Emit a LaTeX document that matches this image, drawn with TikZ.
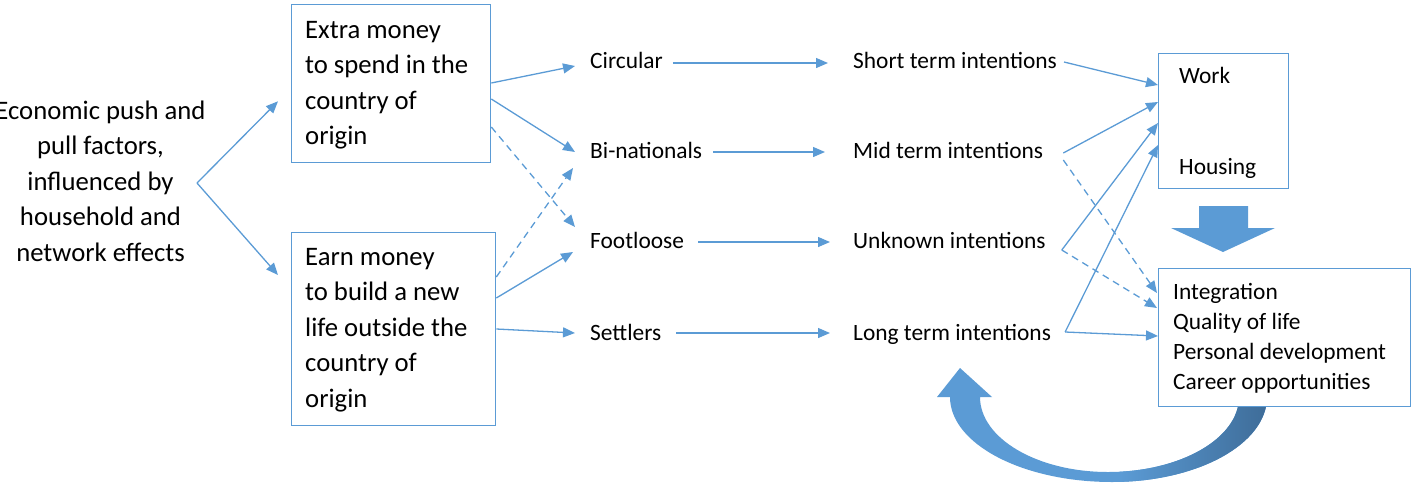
\documentclass[tikz,border=0pt]{standalone}
\usepackage{fontspec}
\setmainfont{Carlito}
\usetikzlibrary{arrows.meta,calc}
\definecolor{lblue}{RGB}{91,155,213}
\definecolor{dblue}{RGB}{62,108,152}
\tikzset{
 conn/.style={draw=lblue, line width=1.3pt, -{Triangle[length=12pt,width=10pt]}},
 dconn/.style={conn, dash pattern=on 7pt off 5pt},
 boxst/.style={draw=lblue, line width=1.3pt, fill=white, inner sep=0pt, anchor=north west},
 bigtxt/.style={font=\fontsize{26.7}{35.5}\selectfont, align=left, inner sep=0pt, anchor=north west},
 smtxt/.style={font=\fontsize{23.4}{30}\selectfont, inner sep=0pt, anchor=base west},
 listtxt/.style={font=\fontsize{23.4}{30}\selectfont, align=left, inner sep=0pt, anchor=north west},
 blockarrow/.style={fill=lblue},
}
\newcommand\myBandPath{(980,397) -- (992,397) -- (960,368) -- (937,397) -- (950,397)
 .. controls (950,443.9) and (1022.5,482) .. (1112,482)
 .. controls (1197.6,482) and (1267,443.9) .. (1267,397)
 -- (1239,397)
 .. controls (1239,438.4) and (1180.4,472) .. (1108,472)
 .. controls (1037.3,472) and (980,438.4) .. (980,397) -- cycle}
\begin{document}
\begin{tikzpicture}[x=1pt,y=-1pt]
\useasboundingbox (0,0) rectangle (1411,483);

% curved feedback arrow
\path[blockarrow] \myBandPath;
\begin{scope}
\clip \myBandPath;
\shade[left color=lblue, right color=dblue] (1120,360) rectangle (1268,483);
\end{scope}

% boxes
\node[boxst, minimum width=199pt, minimum height=158pt] (b1) at (291,4) {};
\node[boxst, minimum width=204pt, minimum height=193pt] (b2) at (291,232) {};
\node[boxst, minimum width=130pt, minimum height=135pt] (wb) at (1158,53) {};
\node[boxst, minimum width=252pt, minimum height=138pt] (bb) at (1158,268) {};

% down block arrow
\path[blockarrow] (1199,206) -- (1248,206) -- (1248,228) -- (1275,228) -- (1223,252) -- (1171,228) -- (1199,228) -- cycle;

% texts
\node[bigtxt, align=center, anchor=north] (lt) at (100.5,94.15) {\strut Economic push and\\pull factors,\\influenced by\\household and\\network effects};
\node[bigtxt] (b1t) at (305,13.15) {\strut Extra money\\to spend in the\\country of\\origin};
\node[bigtxt] (b2t) at (305,240.15) {\strut Earn money\\to build a new\\life outside the\\country of\\origin};

\node[smtxt] (circ) at (590,68) {Circular};
\node[smtxt] (binat) at (590,158) {Bi-nationals};
\node[smtxt] (foot) at (590,248) {Footloose};
\node[smtxt] (settl) at (590,340) {Settlers};

\node[smtxt] (shortt) at (853,68) {Short term intentions};
\node[smtxt] (midt) at (853,158) {Mid term intentions};
\node[smtxt] (unkt) at (853,248) {Unknown intentions};
\node[smtxt] (longt) at (853,340) {Long term intentions};

\node[smtxt] (work) at (1179,83) {Work};
\node[smtxt] (hous) at (1179,174) {Housing};
\node[listtxt] (bbt) at (1173,278) {\strut Integration\\Quality of life\\Personal development\\Career opportunities};

% left branch
\coordinate (br) at (197,183);
\draw[conn] (br) -- ($(b1.south west)+(-13,-62)$);
\draw[conn] (br) -- ($(b2.north west)+(-13,43)$);

% box -> types
\draw[conn] ($(b1.north east)+(0,79)$) -- ($(circ.base west)+(-15,-2)$);
\draw[conn] ($(b1.north east)+(0,95)$) -- ($(binat.base west)+(-15,-6)$);
\draw[dconn] ($(b1.north east)+(0,123)$) -- ($(foot.base west)+(-15,-21)$);
\draw[dconn] ($(b2.north east)+(0,45)$) -- ($(binat.base west)+(-17,10)$);
\draw[conn] ($(b2.north east)+(0,66)$) -- ($(foot.base west)+(-17,4)$);
\draw[conn] ($(b2.north east)+(0,97)$) -- ($(settl.base west)+(-15,-7)$);

% types -> intentions
\draw[conn] ($(circ.base east)+(10,-5)$) -- ($(shortt.base west)+(-25,-5)$);
\draw[conn] ($(binat.base east)+(11,-6)$) -- ($(midt.base west)+(-28,-6)$);
\draw[conn] ($(foot.base east)+(14,-6)$) -- ($(unkt.base west)+(-23,-6)$);
\draw[conn] ($(settl.base east)+(15,-7)$) -- ($(longt.base west)+(-23,-7)$);

% intentions -> outcomes
\coordinate (ms) at ($(midt.base east)+(20,-5)$);
\coordinate (us) at ($(unkt.base east)+(16,2)$);
\coordinate (ls) at ($(longt.base east)+(14,-8)$);
\draw[conn] ($(shortt.base east)+(7,-6)$) -- ($(wb.north west)+(0,32)$);
\draw[conn] (ms) -- ($(wb.north west)+(0,49)$);
\draw[dconn] ($(midt.base east)+(20,2)$) -- ($(bb.north west)+(-1,25)$);
\draw[conn] (us) -- ($(wb.north west)+(0,70)$);
\draw[dconn] (us) -- ($(bb.north west)+(-1,40)$);
\draw[conn] (ls) -- ($(wb.north west)+(0,92)$);
\draw[conn] (ls) -- ($(bb.north west)+(0,68)$);
\end{tikzpicture}
\end{document}
